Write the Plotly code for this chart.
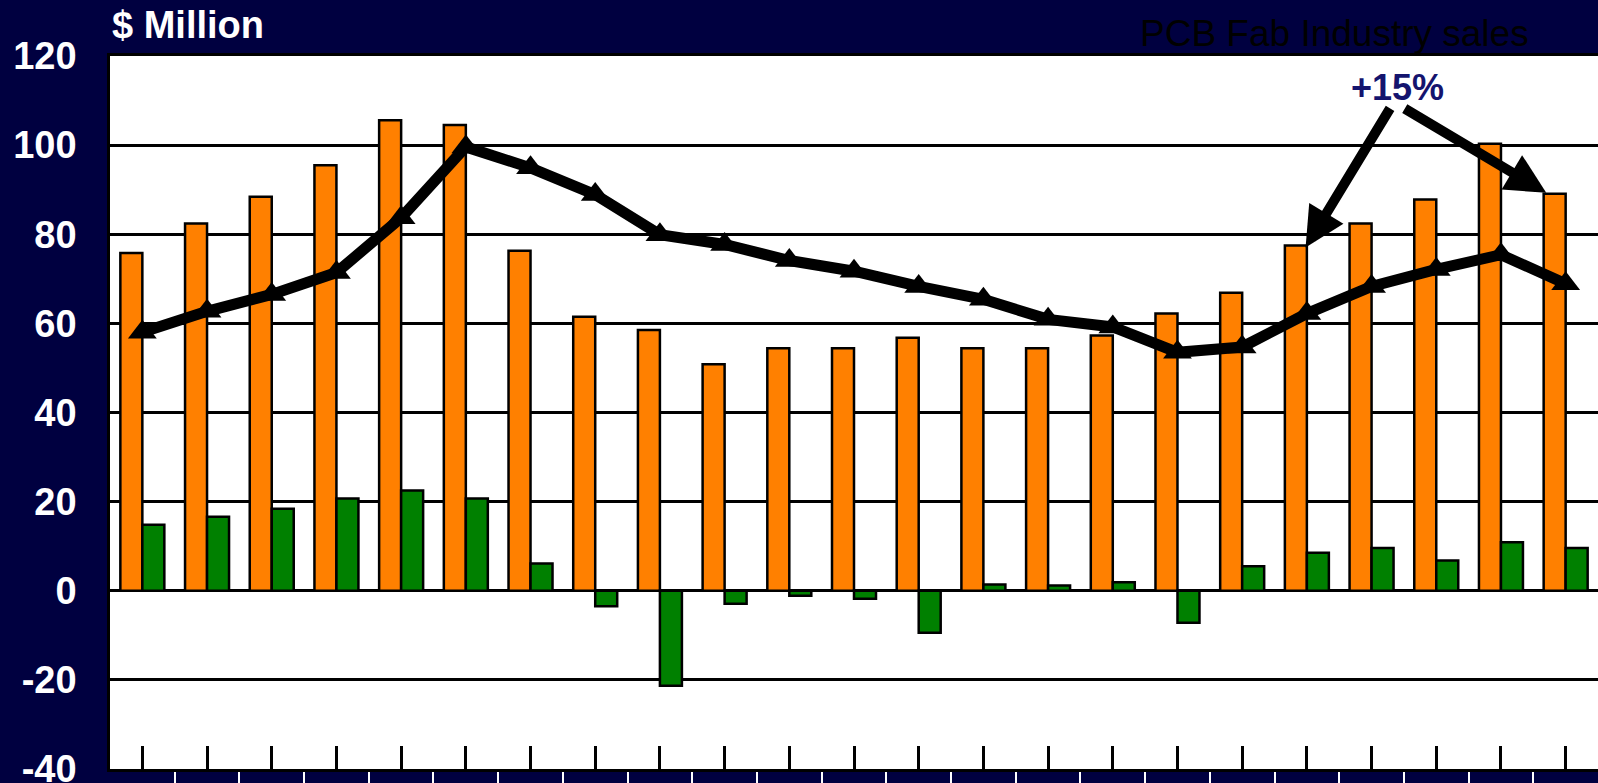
import plotly.graph_objects as go

# --------------------------------------------------
# Data (23 consecutive periods)
# --------------------------------------------------
periods = list(range(23))

sales = [75.8, 82.4, 88.4, 95.5, 105.6, 104.5, 76.3, 61.5, 58.5, 50.8, 54.4, 54.4,
         56.8, 54.4, 54.4, 57.3, 62.2, 66.9, 77.5, 82.4, 87.8, 100.3, 89.1]

change = [14.8, 16.6, 18.4, 20.7, 22.5, 20.7, 6.1, -3.5, -21.3, -2.9, -1.1, -1.8,
          -9.4, 1.4, 1.2, 1.9, -7.2, 5.5, 8.5, 9.6, 6.8, 10.9, 9.6]

trend = [58.0, 62.7, 66.5, 71.4, 83.7, 99.6, 94.9, 88.9, 79.9, 77.7, 74.1, 71.7,
         68.3, 65.4, 60.9, 59.2, 53.5, 54.7, 62.2, 68.3, 72.1, 75.4, 68.9]

y_ticks = [-40, -20, 0, 20, 40, 60, 80, 100, 120]

NAVY = "#000040"
FONT = "Arial, Liberation Sans, sans-serif"

fig = go.Figure()

fig.add_trace(
    go.Bar(
        x=periods,
        y=sales,
        name="PCB Fab Industry sales",
        marker=dict(color="#FF8000", line=dict(color="black", width=2.5)),
    )
)

fig.add_trace(
    go.Bar(
        x=periods,
        y=change,
        name="Change",
        marker=dict(color="#008000", line=dict(color="black", width=2.5)),
    )
)

fig.add_trace(
    go.Scatter(
        x=periods,
        y=trend,
        mode="lines+markers",
        name="Trend",
        line=dict(color="black", width=11),
        marker=dict(symbol="triangle-up", size=25, color="black"),
    )
)

# "+15%" callout with two arrows
fig.add_annotation(
    x=19.4, y=113, xref="x", yref="y",
    text="<b>+15%</b>", showarrow=False,
    font=dict(family=FONT, size=36, color="#14146E"),
)
for tip_x, tip_y, tail_x, tail_y in [(17.98, 77.0, 19.3, 108.6), (21.7, 89.3, 19.49, 108.4)]:
    fig.add_annotation(
        x=tip_x, y=tip_y, xref="x", yref="y",
        ax=tail_x, ay=tail_y, axref="x", ayref="y",
        text="", showarrow=True,
        arrowhead=2, arrowsize=0.8, arrowwidth=10, arrowcolor="black",
        standoff=0,
    )

fig.add_annotation(
    x=0.0, y=1.043, xref="paper", yref="paper",
    xanchor="left", yanchor="middle",
    text="<b>$ Million</b>", showarrow=False,
    font=dict(family=FONT, size=38, color="white"),
)
fig.add_annotation(
    x=0.823, y=1.032, xref="paper", yref="paper",
    xanchor="center", yanchor="middle",
    text="PCB Fab Industry sales", showarrow=False,
    font=dict(family=FONT, size=37, color="black"),
)

fig.update_layout(
    width=1598,
    height=783,
    paper_bgcolor=NAVY,
    plot_bgcolor="white",
    barmode="group",
    bargap=0.32,
    bargroupgap=0,
    showlegend=False,
    margin=dict(l=110, r=0, t=56, b=14, autoexpand=False),
    xaxis=dict(
        range=[-0.5, 22.5],
        automargin=False,
        showgrid=False,
        zeroline=False,
        showticklabels=False,
        showline=True,
        linecolor="black",
        linewidth=2.5,
        mirror=True,
        tickmode="array",
        tickvals=periods,
        ticks="inside",
        ticklen=23,
        tickwidth=2.5,
        tickcolor="black",
        minor=dict(
            tickmode="array",
            tickvals=[p - 0.5 for p in periods] + [22.5],
            ticks="outside",
            ticklen=14,
            tickwidth=2,
            tickcolor="white",
            showgrid=False,
        ),
    ),
    yaxis=dict(
        range=[-40, 120],
        automargin=False,
        tickmode="array",
        tickvals=y_ticks,
        ticktext=[f"<b>{v}</b>" for v in y_ticks],
        tickfont=dict(family=FONT, size=38, color="white"),
        ticklabelstandoff=23,
        ticklabeloverflow="allow",
        showgrid=True,
        gridcolor="black",
        gridwidth=2.5,
        zeroline=True,
        zerolinecolor="black",
        zerolinewidth=2.5,
        showline=True,
        linecolor="black",
        linewidth=2.5,
        mirror=True,
    ),
)

# page body has a default 8px margin; drop it so the figure fills the window
fig.write_html(
    "out.html",
    config={"displayModeBar": False},
    post_script=(
        "document.body.style.margin='0';"
        "document.body.style.overflow='hidden';"
        "document.body.style.background='" + NAVY + "';"
    ),
)
